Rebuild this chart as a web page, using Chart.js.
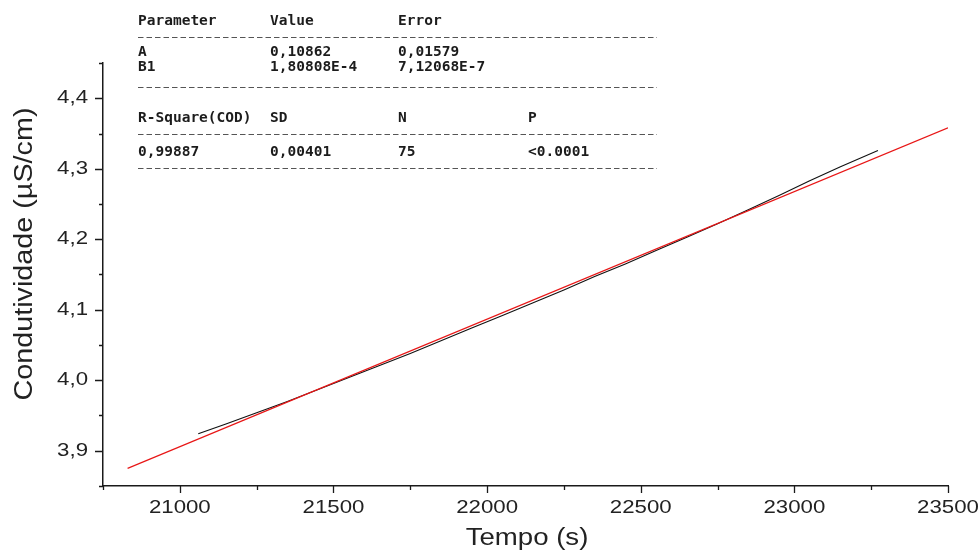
<!DOCTYPE html>
<html>
<head>
<meta charset="utf-8">
<script src="https://cdn.jsdelivr.net/npm/chart.js@4/dist/chart.umd.min.js"></script>
<style>
  html, body { margin: 0; padding: 0; background: #fff; }
  #wrap { width: 980px; height: 551px; }
</style>
</head>
<body>
<div id="wrap"><canvas id="condChart" width="980" height="551"></canvas></div>
<script>
// measured conductivity vs time
const timeData = [21060, 21150, 21250, 21350, 21450, 21550, 21650, 21750, 21850, 21950, 22050, 22150,
                  22250, 22350, 22450, 22550, 22650, 22750, 22850, 22950, 23050, 23150, 23272];
const condData = [3.924, 3.938, 3.954, 3.970, 3.987, 4.004, 4.021, 4.038, 4.056, 4.074, 4.092, 4.110,
                  4.128, 4.147, 4.165, 4.184, 4.203, 4.222, 4.242, 4.262, 4.283, 4.303, 4.326];

// linear fit line (end points)
const timeFit = [20830, 23500];
const condFit = [3.875, 4.358];

// axis ticks
const xTicks = [21000, 21500, 22000, 22500, 23000, 23500];
const xMinor = [20750, 21250, 21750, 22250, 22750, 23250];
const yTicks = [3.9, 4.0, 4.1, 4.2, 4.3, 4.4];
const yTickLabels = ['3,9', '4,0', '4,1', '4,2', '4,3', '4,4'];
const yMinor = [3.85, 3.95, 4.05, 4.15, 4.25, 4.35, 4.45];

// fit report
const fitHeader = ['Parameter', 'Value', 'Error'];
const fitRows = [['A', '0,10862', '0,01579'], ['B1', '1,80808E-4', '7,12068E-7']];
const statHeader = ['R-Square(COD)', 'SD', 'N', 'P'];
const statRow = ['0,99887', '0,00401', '75', '<0.0001'];

const toPoints = (xs, ys) => xs.map((x, i) => ({ x: x, y: ys[i] }));

// text drawn wider along its baseline
function wideText(ctx, text, x, y, sx, rot) {
  ctx.save();
  ctx.translate(x, y);
  if (rot) ctx.rotate(rot);
  ctx.scale(sx, 1);
  ctx.fillText(text, 0, 0);
  ctx.restore();
}

const axisDecor = {
  id: 'axisDecor',
  afterDraw(chart) {
    const { ctx, chartArea: a } = chart;
    const x = chart.scales.x, y = chart.scales.y;
    ctx.save();
    ctx.strokeStyle = '#1a1a1a';
    ctx.lineWidth = 1.3;
    ctx.beginPath();
    xTicks.forEach(v => { const p = Math.round(x.getPixelForValue(v)) + 0.5; ctx.moveTo(p, a.bottom); ctx.lineTo(p, a.bottom + 7); });
    xMinor.forEach(v => { const p = Math.round(x.getPixelForValue(v)) + 0.5; ctx.moveTo(p, a.bottom); ctx.lineTo(p, a.bottom + 4); });
    yTicks.forEach(v => { const p = Math.round(y.getPixelForValue(v)) + 0.5; ctx.moveTo(a.left, p); ctx.lineTo(a.left - 8, p); });
    yMinor.forEach(v => { const p = Math.round(y.getPixelForValue(v)) + 0.5; ctx.moveTo(a.left, p); ctx.lineTo(a.left - 4, p); });
    ctx.stroke();

    // tick labels
    ctx.fillStyle = '#222';
    ctx.font = '19px "Liberation Sans", Arial, sans-serif';
    ctx.textBaseline = 'middle';
    ctx.textAlign = 'center';
    xTicks.forEach(v => wideText(ctx, String(v), x.getPixelForValue(v), a.bottom + 22, 1.17));
    ctx.textAlign = 'right';
    yTicks.forEach((v, i) => wideText(ctx, yTickLabels[i], a.left - 15, y.getPixelForValue(v), 1.17));

    // axis titles
    ctx.textAlign = 'center';
    ctx.font = '23px "Liberation Sans", Arial, sans-serif';
    wideText(ctx, 'Tempo (s)', 527, 539, 1.2);
    ctx.font = '25px "Liberation Sans", Arial, sans-serif';
    wideText(ctx, 'Condutividade (\u00B5S/cm)', 25, 254, 1.15, -Math.PI / 2);

    // fit report table
    const cols = [138, 270, 398, 528];
    ctx.textAlign = 'left';
    ctx.fillStyle = '#1c1c1c';
    ctx.font = 'bold 14.5px "DejaVu Sans Mono", monospace';
    fitHeader.forEach((t, i) => ctx.fillText(t, cols[i], 21));
    fitRows.forEach((r, j) => r.forEach((t, i) => ctx.fillText(t, cols[i], 52 + j * 15)));
    statHeader.forEach((t, i) => ctx.fillText(t, cols[i], 118));
    statRow.forEach((t, i) => ctx.fillText(t, cols[i], 152));
    ctx.strokeStyle = '#555';
    ctx.lineWidth = 1;
    ctx.setLineDash([5.5, 3]);
    ctx.beginPath();
    [37, 87, 134, 168].forEach(ly => { ctx.moveTo(138, ly + 0.5); ctx.lineTo(657, ly + 0.5); });
    ctx.stroke();
    ctx.restore();
  }
};

new Chart(document.getElementById('condChart'), {
  type: 'scatter',
  data: {
    datasets: [
      {
        label: 'Linear Fit',
        data: toPoints(timeFit, condFit),
        showLine: true,
        borderColor: 'rgb(232, 22, 22)',
        borderWidth: 1.2,
        pointRadius: 0,
        order: 0
      },
      {
        label: 'Condutividade',
        data: toPoints(timeData, condData),
        showLine: true,
        borderColor: '#111',
        borderWidth: 1.1,
        pointRadius: 0,
        order: 1
      }
    ]
  },
  options: {
    responsive: false,
    animation: false,
    devicePixelRatio: 1,
    layout: { padding: { top: 63, right: 32, left: 0, bottom: 0 } },
    plugins: {
      legend: { display: false },
      tooltip: { enabled: false }
    },
    scales: {
      x: {
        type: 'linear',
        min: 20750,
        max: 23500,
        grid: { display: false },
        border: { display: true, color: '#1a1a1a', width: 1.5 },
        ticks: { display: false, stepSize: 500 },
        afterFit: s => { s.height = 65; }
      },
      y: {
        type: 'linear',
        min: 3.85,
        max: 4.45,
        grid: { display: false },
        border: { display: true, color: '#1a1a1a', width: 1.5 },
        ticks: { display: false, stepSize: 0.1 },
        afterFit: s => { s.width = 103; }
      }
    }
  },
  plugins: [axisDecor]
});
</script>
</body>
</html>
